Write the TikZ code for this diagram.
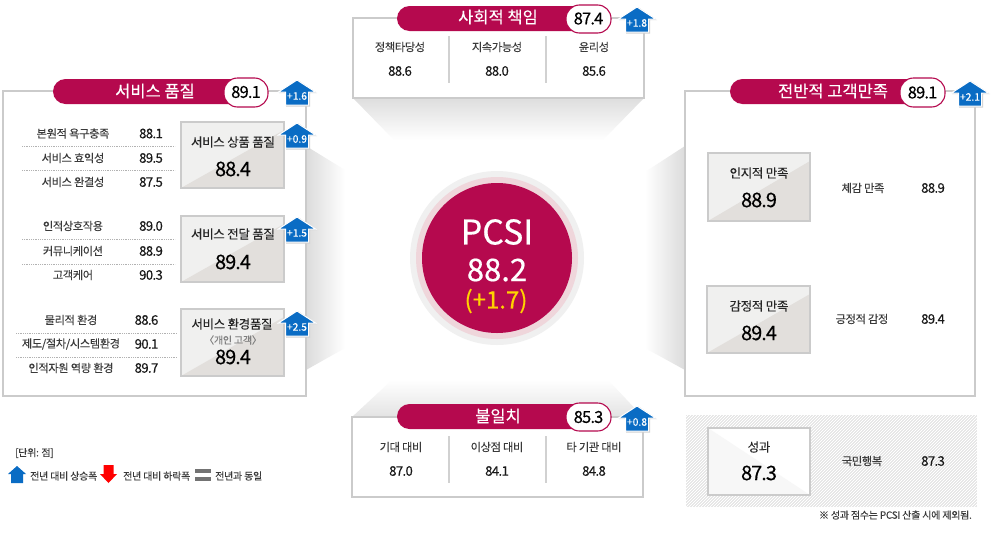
\documentclass[tikz,border=0pt]{standalone}
\usepackage{fontspec}
\setmainfont[FakeBold=0.2]{Noto Sans CJK KR}
\newfontfamily\numf[LetterSpace=-5,FakeBold=0.3]{Noto Sans CJK KR}
\newfontfamily\lblf[LetterSpace=-3,FakeBold=0.12]{Noto Sans CJK KR}
\newfontfamily\bigf[FakeBold=0.5]{Noto Sans CJK KR}
\definecolor{crim}{HTML}{B5094E}
\definecolor{edgeg}{HTML}{CBCBCB}
\definecolor{txt}{HTML}{3A3A3A}
\definecolor{arrblue}{HTML}{0A6CC4}
\definecolor{boxa}{HTML}{F0F0EF}
\definecolor{boxb}{HTML}{E2DFDC}
\definecolor{ringp}{HTML}{EFD6DB}
\tikzset{
  panel/.style={draw=edgeg,line width=1.2pt,fill=white},
  band/.style={fill=crim,rounded corners=12.5pt},
  pillbox/.style={draw=crim,line width=1.1pt,fill=white,rounded corners=13.5pt},
  title/.style={text=white,inner sep=0pt,font=\fontsize{16.5}{18}\selectfont},
  pillnum/.style={text=black,inner sep=0pt,font=\numf\fontsize{16.5}{17}\selectfont},
  lbl/.style={text=txt,inner sep=0pt,font=\lblf\fontsize{11.2}{13}\selectfont},
  val/.style={text=black!90,inner sep=0pt,font=\numf\fontsize{13.2}{14}\selectfont},
  boxt/.style={text=black!85,inner sep=0pt,font=\lblf\fontsize{12.5}{14}\selectfont},
  boxv/.style={text=black,inner sep=0pt,font=\numf\fontsize{20}{22}\selectfont},
  dotl/.style={draw=black!30,line width=.8pt,densely dotted},
  divl/.style={draw=black!18,line width=1.2pt},
  arrt/.style={text=white,inner sep=0pt,font=\fontsize{10.3}{12}\selectfont},
  legt/.style={text=txt,inner sep=0pt,anchor=west,font=\lblf\fontsize{10}{12}\selectfont},
}
% up arrow: name, centre x, top y, label
\newcommand{\uparr}[4]{%
  \fill[black!18] (#2+1,#3) -- (#2+20,#3+13) -- (#2+13,#3+13) -- (#2+13,#3+26.5) -- (#2-11,#3+26.5) -- (#2-11,#3+13) -- (#2-18,#3+13) -- cycle;
  \draw[white,line width=1pt,fill=arrblue,line join=miter] (#2,#3) -- (#2+18.5,#3+12) -- (#2+11.5,#3+12) -- (#2+11.5,#3+25) -- (#2-11.5,#3+25) -- (#2-11.5,#3+12) -- (#2-18.5,#3+12) -- cycle;
  \node[arrt] (#1) at (#2,#3+16) {#4};}
% box with diagonal: name, x1,y1,x2,y2
\newcommand{\subbox}[5]{%
  \fill[fill=boxa] (#2,#3) rectangle (#4,#5);
  \fill[fill=boxb] (#2,#5) -- (#4,#3+8) -- (#4,#5) -- cycle;
  \draw[edgeg,line width=1.2pt] (#2,#3) rectangle (#4,#5);
  \coordinate (#1) at ({(#2+#4)/2},{(#3+#5)/2});}
\begin{document}
\begin{tikzpicture}[x=1pt,y=-1pt]
\useasboundingbox (0,0) rectangle (1000,533);
\fill[white] (0,0) rectangle (1000,533);
% soft wedges
\shade[top color=black!13,bottom color=white] (353,98) -- (644,98) -- (603,140) -- (394,140) -- cycle;
\shade[bottom color=black!11,top color=white] (352,417) -- (643,417) -- (608,380) -- (392,380) -- cycle;
\shade[left color=black!14,right color=white] (306,146) -- (345,170) -- (345,348) -- (306,370) -- cycle;
\shade[right color=black!14,left color=white] (685,146) -- (645,172) -- (645,348) -- (685,370) -- cycle;
% panels
\draw[panel] (3,91) rectangle (306,396);
\draw[panel] (353,18) rectangle (644,98);
\draw[panel] (352,417) rectangle (643,497);
\draw[panel] (685,91) rectangle (975,396);
% hatched
\begin{scope}
\clip (686,415) rectangle (977,507);
\fill[black!12] (686,415) rectangle (977,507);
\foreach \i in {-99,-96,...,300} \draw[white,line width=.9pt] (680+\i,510) -- (680+\i+100,410);
\end{scope}
% circle
\fill[black!6] (497,258) circle (87);
\fill[ringp] (497,258) circle (81);
\fill[crim] (497,258) circle (75);
\node[inner sep=0pt,text=white,font=\bigf\fontsize{34}{36}\selectfont] (pcsi) at (497,232) {PCSI};
\node[inner sep=0pt,text=white,font=\bigf\fontsize{31}{33}\selectfont] (pcsiv) at (497,270) {88.2};
\node[inner sep=0pt,text={rgb,255:red,255;green,210;blue,0},font=\bigf\fontsize{24}{26}\selectfont] (pcsid) at (496,301) {(+1.7)};
% left panel
\fill[band] (53,79) rectangle (268,104);
\draw[pillbox] (224,78) rectangle (268,107);
\node[title] (t1) at (155,91) {서비스 품질};
\node[pillnum] (p1) at (246,92) {89.1};
\foreach \n/\y/\a/\b in {a/133.5/본원적 욕구충족/88.1,b/158/서비스 효익성/89.5,c/182/서비스 완결성/87.5,d/226/인적상호작용/89.0,e/251/커뮤니케이션/88.9,f/275/고객케어/90.3}{
  \node[lbl] (l\n) at (73,\y) {\a};
  \node[val] (v\n) at (151,\y) {\b};
}
\foreach \n/\y/\a/\b in {g/320/{물리적 환경}/88.6,h/344/{제도/절차/시스템환경}/90.1,i/368/{인적자원 역량 환경}/89.7}{
  \node[lbl] (l\n) at (71,\y) {\a};
  \node[val] (v\n) at (146.5,\y) {\b};
}
\foreach \y in {146,170,239,264} \draw[dotl] (22,\y) -- (175,\y);
\foreach \y in {333,357} \draw[dotl] (16,\y) -- (177,\y);
\subbox{s1}{181}{122}{284}{188}
\subbox{s2}{181}{216}{284}{282}
\subbox{s3}{181}{309}{284}{376}
\node[boxt] (s1t) at (233,142) {서비스 상품 품질};
\node[boxv] (s1v) at (233,169) {88.4};
\node[boxt] (s2t) at (233,234) {서비스 전달 품질};
\node[boxv] (s2v) at (233,262) {89.4};
\node[boxt] (s3t) at (232,324) {서비스 환경품질};
\node[inner sep=0pt,text=black!50,font=\lblf\fontsize{10}{12}\selectfont] (s3n) at (233,340) {〈개인 고객〉};
\node[boxv] (s3v) at (233,357) {89.4};
\uparr{a1}{297}{80}{+1.6}
\uparr{a2}{297}{123}{+0.9}
\uparr{a3}{297}{217}{+1.5}
\uparr{a4}{297}{311}{+2.5}
% top panel
\fill[band] (397,6) rectangle (611,31);
\draw[pillbox] (566,5) rectangle (611,33);
\node[title] (t2) at (498,17) {사회적 책임};
\node[pillnum] (p2) at (588.5,18.5) {87.4};
\foreach \x in {449,546} \draw[divl] (\x,36) -- (\x,83);
\foreach \n/\x/\a/\b in {a/400/정책타당성/88.6,b/497/지속가능성/88.0,c/594/윤리성/85.6}{
  \node[lbl] (tl\n) at (\x,47) {\a};
  \node[val] (tv\n) at (\x,71) {\b};
}
\uparr{a5}{637}{7}{+1.8}
% bottom panel
\fill[band] (397,404) rectangle (611,429);
\draw[pillbox] (566,403) rectangle (611,431);
\node[title] (t3) at (498,416) {불일치};
\node[pillnum] (p3) at (588.5,417) {85.3};
\foreach \x in {449,546} \draw[divl] (\x,436) -- (\x,483);
\foreach \n/\x/\a/\b in {a/401/기대 대비/87.0,b/497/이상점 대비/84.1,c/594/타 기관 대비/84.8}{
  \node[lbl] (bl\n) at (\x,447) {\a};
  \node[val] (bv\n) at (\x,471) {\b};
}
\uparr{a6}{637}{406}{+0.8}
% right panel
\fill[band] (730,79) rectangle (943,104);
\draw[pillbox] (900,78) rectangle (945,107);
\node[title] (t4) at (833,91) {전반적 고객만족};
\node[pillnum] (p4) at (922.5,92.5) {89.1};
\uparr{a7}{970}{81}{+2.1}
\subbox{r1}{708}{153}{810}{221}
\subbox{r2}{707}{286}{810}{353}
\node[boxt] (r1t) at (759,173) {인지적 만족};
\node[boxv] (r1v) at (759,200) {88.9};
\node[boxt] (r2t) at (759,306) {감정적 만족};
\node[boxv] (r2v) at (759,333) {89.4};
\node[lbl] (r1l) at (863,188) {체감 만족};
\node[val] (r1n) at (933,188) {88.9};
\node[lbl] (r2l) at (862,319) {긍정적 감정};
\node[val] (r2n) at (933,319) {89.4};
% outcome
\fill[white] (708,428) rectangle (810,495);
\fill[black!3] (708,428) -- (810,495) -- (708,495) -- cycle;
\draw[edgeg,line width=1.2pt] (708,428) rectangle (810,495);
\node[boxt] (r3t) at (759,447) {성과};
\node[boxv] (r3v) at (759,473) {87.3};
\node[lbl] (r3l) at (862,461) {국민행복};
\node[val] (r3n) at (933,461) {87.3};
\node[lbl,anchor=east,font=\lblf\fontsize{10}{12}\selectfont] (note) at (972,515) {※ 성과 점수는 PCSI 산출 시에 제외됨.};
% legend
\node[legt] (unit) at (15,453) {[단위: 점]};
\fill[arrblue] (17,466) -- (26,474) -- (23,474) -- (23,483) -- (11,483) -- (11,474) -- (8,474) -- cycle;
\node[legt] (l1) at (30,476) {전년 대비 상승폭};
\fill[red] (108.5,483) -- (117,474) -- (113.5,474) -- (113.5,465) -- (103.5,465) -- (103.5,474) -- (100,474) -- cycle;
\node[legt] (l2) at (123,476) {전년 대비 하락폭};
\fill[black!55] (195,469) rectangle (211,473);
\fill[black!55] (195,477) rectangle (211,481);
\node[legt] (l3) at (215,476) {전년과 동일};
\end{tikzpicture}
\end{document}
